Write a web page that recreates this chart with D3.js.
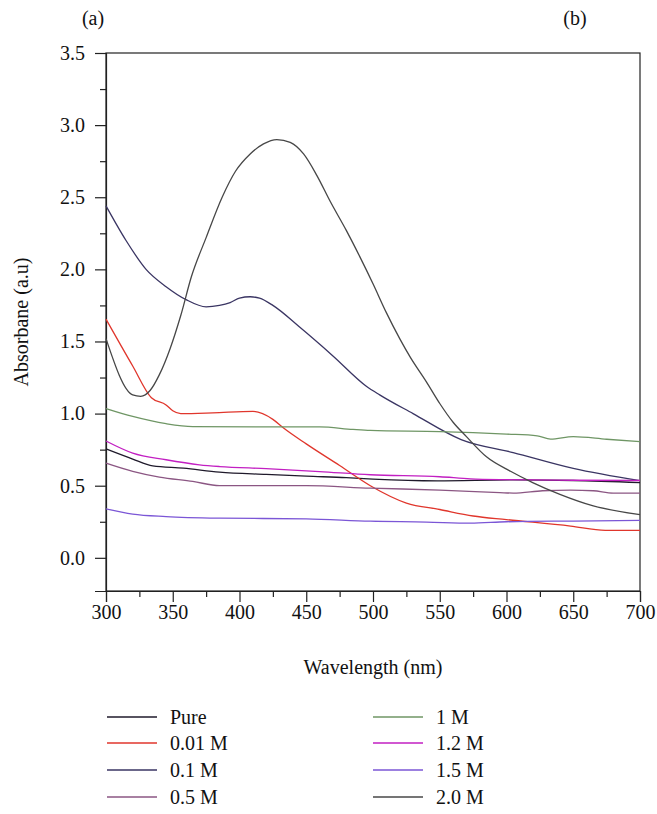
<!DOCTYPE html>
<html>
<head>
<meta charset="utf-8">
<script src="https://cdn.jsdelivr.net/npm/d3@7/dist/d3.min.js"></script>
<style>
  html, body { margin: 0; padding: 0; background: #fff; }
  svg { display: block; }
  svg text { font-family: "Liberation Serif", "Times New Roman", "DejaVu Serif", serif !important; fill: #111; }
</style>
</head>
<body>
<svg id="chart" width="657" height="814"></svg>
<script>
// ---- data (wavelength nm, absorbance a.u.) ----
const seriesNames = ["Pure", "0.01 M", "0.1 M", "0.5 M", "1 M", "1.2 M", "1.5 M", "2.0 M"];
const seriesColors = ["#1f1a2b", "#e0362c", "#3a3563", "#8b5683", "#6f9665", "#c21fc2", "#7b56d6", "#474747"];

const pure = [[300,0.755],[320,0.685],[335,0.638],[358,0.622],[385,0.594],[420,0.578],[450,0.566],[480,0.556],[500,0.546],[548,0.534],[605,0.540],[650,0.536],[700,0.522]];
const m001 = [[300,1.655],[320,1.33],[334,1.11],[345,1.06],[350,1.02],[356,1.00],[380,1.005],[410,1.015],[425,0.96],[433,0.90],[450,0.79],[475,0.64],[498,0.50],[525,0.38],[550,0.335],[575,0.29],[600,0.265],[648,0.22],[674,0.19],[700,0.19]];
const m01 = [[300,2.44],[315,2.20],[330,2.00],[345,1.88],[360,1.79],[375,1.74],[385,1.75],[393,1.77],[400,1.80],[408,1.81],[415,1.80],[425,1.75],[445,1.60],[470,1.40],[495,1.19],[505,1.13],[530,1.00],[566,0.82],[605,0.73],[650,0.62],[700,0.535]];
const m05 = [[300,0.657],[320,0.60],[340,0.56],[365,0.53],[385,0.50],[450,0.50],[498,0.483],[550,0.47],[595,0.452],[605,0.449],[627,0.465],[648,0.47],[665,0.465],[680,0.449],[700,0.449]];
const m1 = [[300,1.035],[320,0.98],[345,0.93],[365,0.91],[420,0.908],[460,0.908],[485,0.89],[498,0.883],[550,0.875],[575,0.868],[600,0.858],[623,0.846],[633,0.823],[650,0.84],[675,0.822],[700,0.805]];
const m12 = [[300,0.81],[320,0.726],[345,0.68],[370,0.645],[385,0.633],[420,0.618],[460,0.598],[498,0.576],[550,0.562],[573,0.548],[600,0.542],[650,0.538],[700,0.536]];
const m15 = [[300,0.34],[320,0.303],[345,0.286],[385,0.275],[450,0.27],[498,0.254],[540,0.248],[573,0.24],[600,0.25],[650,0.255],[700,0.259]];
const m20 = [[300,1.52],[320,1.13],[326,1.12],[333,1.16],[340,1.27],[348,1.45],[356,1.68],[364,1.95],[375,2.22],[387,2.50],[397,2.68],[408,2.80],[418,2.87],[428,2.90],[438,2.88],[448,2.80],[458,2.65],[468,2.47],[480,2.27],[490,2.09],[500,1.90],[510,1.70],[520,1.52],[528,1.39],[540,1.22],[550,1.07],[560,0.94],[570,0.84],[585,0.70],[603,0.60],[620,0.52],[640,0.44],[665,0.36],[700,0.30]];

const allSeries = [pure, m001, m01, m05, m1, m12, m15, m20];

const xMajor = [300, 350, 400, 450, 500, 550, 600, 650, 700];
const xMinor = [325, 375, 425, 475, 525, 575, 625, 675];
const yMajor = [0.0, 0.5, 1.0, 1.5, 2.0, 2.5, 3.0, 3.5];
const yMinor = [0.25, 0.75, 1.25, 1.75, 2.25, 2.75, 3.25];

// ---- layout ----
const mL = 106, mR = 640, mT = 53, mB = 591;
const FS = 20;
const svg = d3.select("#chart");

const x = d3.scaleLinear().domain([300, 700]).range([mL, mR]);
const y = d3.scaleLinear().domain([-0.23, 3.5]).range([mB, mT]);

// axes
svg.append("g").attr("transform", `translate(0,${mB})`)
  .call(d3.axisBottom(x).tickValues(xMajor).tickSize(11).tickPadding(3).tickFormat(d3.format("d")));
svg.append("g").attr("transform", `translate(0,${mB})`)
  .call(d3.axisBottom(x).tickValues(xMinor).tickSize(6).tickFormat(""))
  .call(g => g.select(".domain").remove());

svg.append("g").attr("transform", `translate(${mL},0)`)
  .call(d3.axisLeft(y).tickValues(yMajor).tickSize(11).tickPadding(10).tickFormat(d3.format(".1f")));
svg.append("g").attr("transform", `translate(${mL},0)`)
  .call(d3.axisLeft(y).tickValues(yMinor).tickSize(6).tickFormat(""))
  .call(g => g.select(".domain").remove());

svg.selectAll("g").attr("font-family", null).attr("font-size", null);
svg.selectAll(".tick text").attr("font-size", FS);
svg.selectAll(".tick line").attr("stroke", "#222").attr("stroke-width", 1.2);
svg.selectAll(".domain").attr("stroke", "#222").attr("stroke-width", 1.2);

// frame
svg.append("rect").attr("x", mL).attr("y", mT).attr("width", mR - mL).attr("height", mB - mT)
  .attr("fill", "none").attr("stroke", "#222").attr("stroke-width", 1.2);

// lines
const line = d3.line().x(d => x(d[0])).y(d => y(d[1])).curve(d3.curveMonotoneX);
const plot = svg.append("g");
allSeries.forEach((s, i) => {
  plot.append("path").datum(s).attr("d", line)
    .attr("fill", "none").attr("stroke", seriesColors[i]).attr("stroke-width", 1.3);
});

// titles
svg.append("text").attr("x", (mL + mR) / 2).attr("y", 674).attr("text-anchor", "middle")
  .attr("font-size", FS).text("Wavelength (nm)");
svg.append("text").attr("transform", `translate(28,${(mT + mB) / 2}) rotate(-90)`)
  .attr("text-anchor", "middle").attr("font-size", FS).text("Absorbane (a.u)");

svg.append("text").attr("x", 93).attr("y", 25).attr("text-anchor", "middle").attr("font-size", FS).text("(a)");
svg.append("text").attr("x", 575).attr("y", 25).attr("text-anchor", "middle").attr("font-size", FS).text("(b)");

// legend
const legRows = [717, 743, 770, 797];
const legCols = [107, 373];
seriesNames.forEach((name, i) => {
  const col = Math.floor(i / 4), row = i % 4;
  const lx = legCols[col], ly = legRows[row];
  svg.append("line").attr("x1", lx).attr("x2", lx + 50).attr("y1", ly).attr("y2", ly)
    .attr("stroke", seriesColors[i]).attr("stroke-width", 1.3);
  svg.append("text").attr("x", lx + 63).attr("y", ly + 7).attr("font-size", FS).text(name);
});
</script>
</body>
</html>
